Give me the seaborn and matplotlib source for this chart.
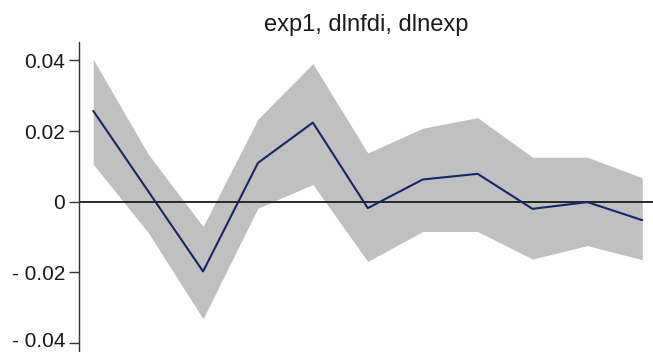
import matplotlib
matplotlib.use("Agg")
import matplotlib.pyplot as plt
import matplotlib.transforms as mtransforms
import seaborn as sns
import pandas as pd
import numpy as np

# Impulse response of dlnexp to dlnfdi (exp1), with confidence band
steps = [0, 1, 2, 3, 4, 5, 6, 7, 8, 9, 10]
irf = [0.0257, 0.0030, -0.0197, 0.0110, 0.0224, -0.0018, 0.0063, 0.0079, -0.0020, -0.0001, -0.0052]
upper = [0.0403, 0.0135, -0.0070, 0.0234, 0.0391, 0.0138, 0.0208, 0.0238, 0.0126, 0.0126, 0.0068]
lower = [0.0106, -0.0087, -0.0331, -0.0018, 0.0049, -0.0169, -0.0084, -0.0084, -0.0162, -0.0124, -0.0164]

yticks = [0.04, 0.02, 0.0, -0.02, -0.04]
ytick_labels = ["0.04", "0.02", "0", "- 0.02", "- 0.04"]
title = "exp1, dlnfdi, dlnexp"

sns.set_style("white")
plt.rcParams["font.family"] = ["Liberation Sans", "DejaVu Sans"]

df = pd.DataFrame({"step": steps, "irf": irf, "upper": upper, "lower": lower})

W, H = 653, 352
fig = plt.figure(figsize=(W / 100, H / 100), dpi=100)
ax = fig.add_axes([79 / W, 0.0, (W - 79) / W, (H - 42) / H])

ax.fill_between(df["step"], df["lower"], df["upper"], color="#c0c0c0", linewidth=0, zorder=1)
ax.axhline(0, color="#1a1a1a", linewidth=1.3, zorder=2)
sns.lineplot(data=df, x="step", y="irf", ax=ax, color="#172766", linewidth=1.5, zorder=3)

ax.set_xlim(-0.26, 10.195)
ax.set_ylim(-0.0425, 0.0452)
ax.set_yticks(yticks)
ax.set_yticklabels(ytick_labels, fontsize=15, color="#1a1a1a")
ax.set_xticks([])
ax.set_xlabel("")
ax.set_ylabel("")

for side in ["top", "right", "bottom"]:
    ax.spines[side].set_visible(False)
ax.spines["left"].set_color("#333333")
ax.spines["left"].set_linewidth(1.0)
ax.tick_params(axis="y", which="major", left=True, length=7, width=1.0,
               color="#333333", pad=3)

# nudge the lowest tick label up so it stays inside the canvas
lowest = ax.get_yticklabels()[-1]
lowest.set_transform(lowest.get_transform()
                     + mtransforms.ScaledTranslation(0, 4 / 100, fig.dpi_scale_trans))

ax.set_title(title, fontsize=17, color="#1a1a1a", pad=8)

fig.savefig("out.png", dpi=100, facecolor="white")
